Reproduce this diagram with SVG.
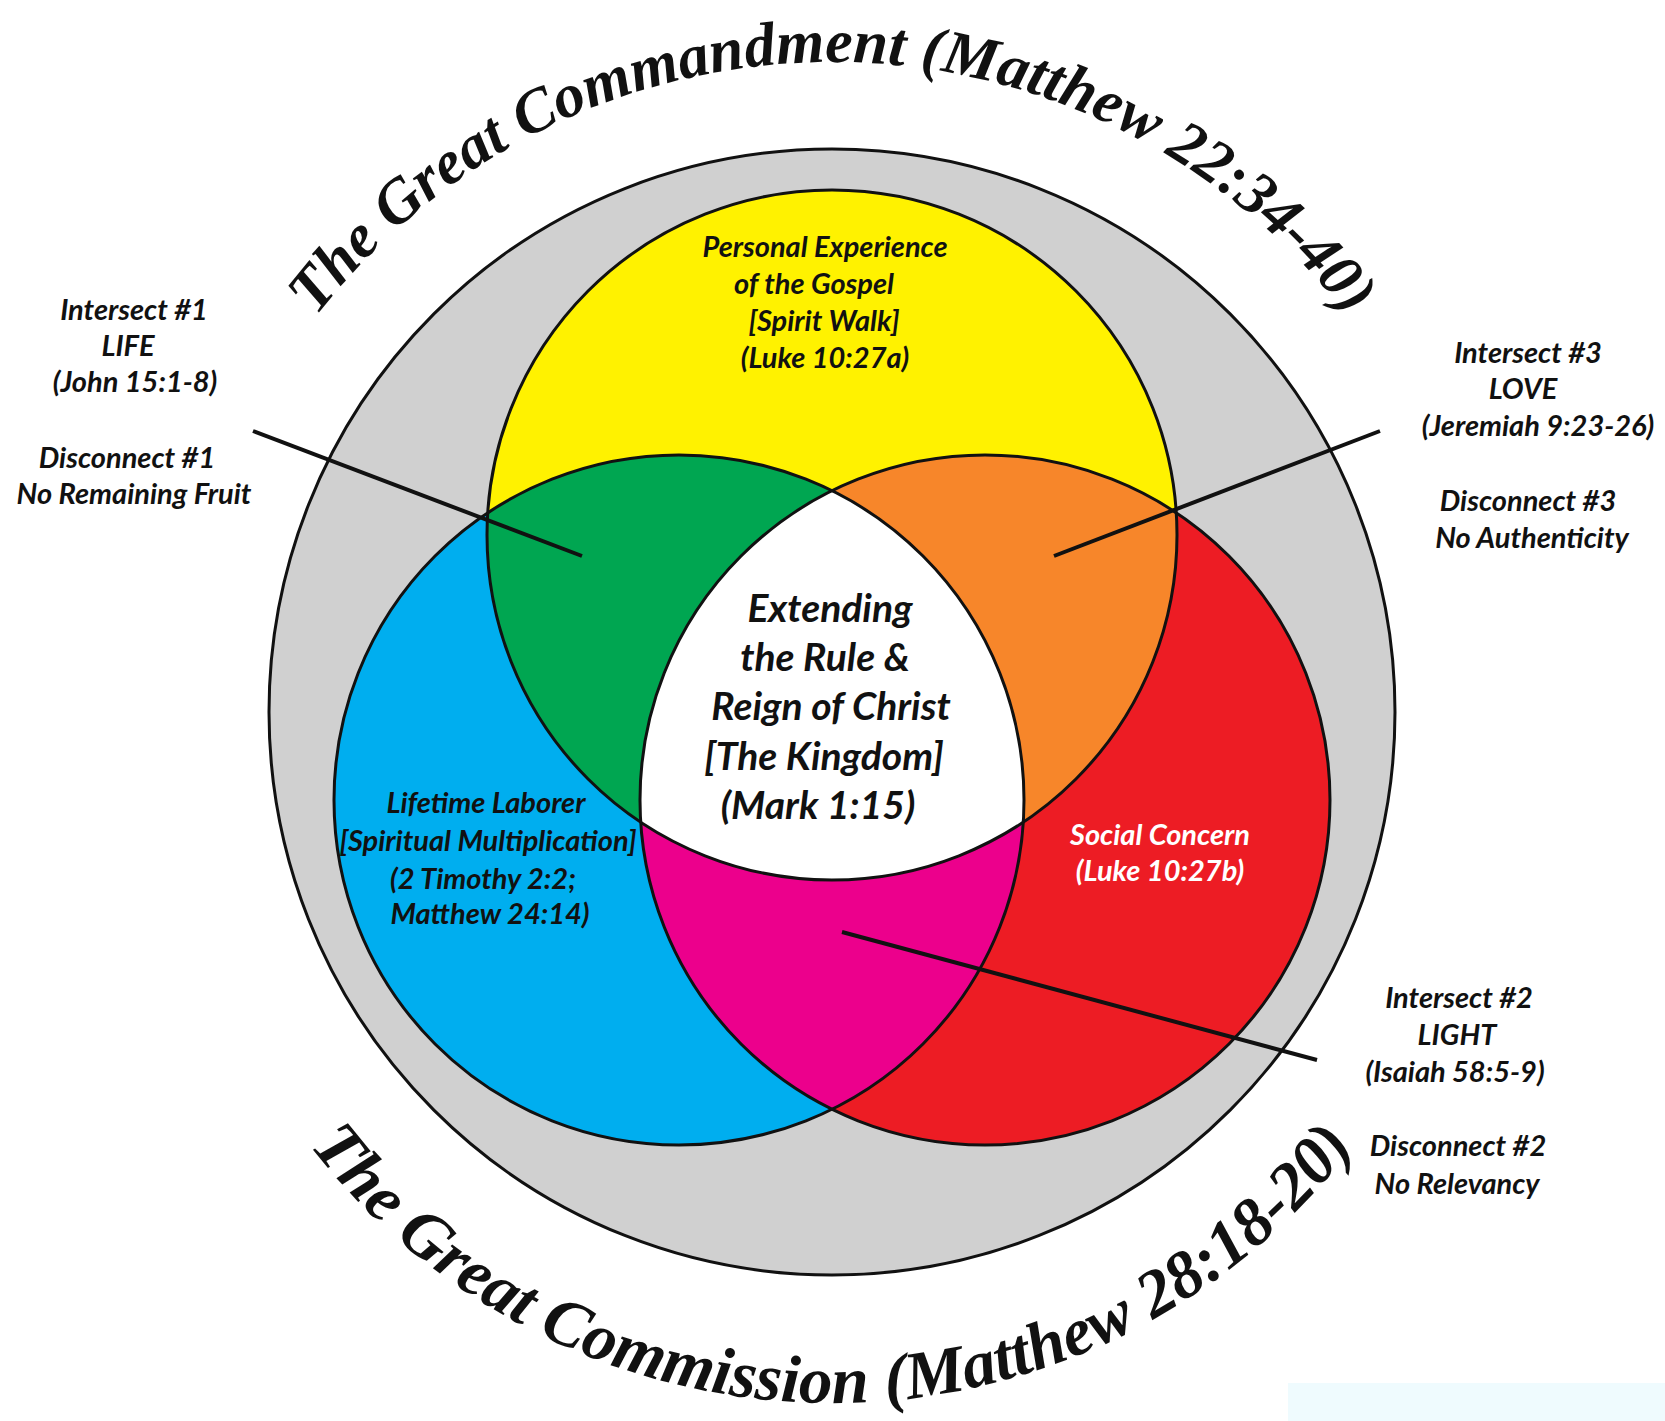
<svg xmlns="http://www.w3.org/2000/svg" width="1665" height="1421" viewBox="0 0 1665 1421">
<style>
.lbl{font-family:Lato,"Liberation Sans",sans-serif;font-weight:bold;font-style:italic;font-size:29px;fill:#111;text-anchor:middle}
.ctr{font-size:39px}
.wht{fill:#fff}
.title{font-family:"Liberation Serif","Times New Roman",serif;font-weight:bold;font-style:italic;fill:#111}
.edge{fill:none;stroke:#111;stroke-width:3}
.conn{stroke:#111;stroke-width:4;stroke-linecap:butt}
</style>
<defs>
<clipPath id="cY"><circle cx="832" cy="535" r="345"/></clipPath>
<clipPath id="cB"><circle cx="679" cy="800" r="345"/></clipPath>
<clipPath id="cR"><circle cx="985" cy="800" r="345"/></clipPath>
<path id="arcTop" d="M 182 712 A 650 650 0 0 1 1482 712"/>
<path id="arcBot" d="M 174 745 A 658 658 0 0 0 1490 745"/>
</defs>
<rect width="1665" height="1421" fill="#fff"/>
<rect x="1288" y="1383" width="377" height="38" fill="#effbfe"/>

<g id="outer-ring">
<circle cx="832" cy="712" r="563" fill="#d0d0d0" stroke="#111" stroke-width="3"/>
</g>

<g id="title-top">
<text class="title" font-size="62"><textPath href="#arcTop" startOffset="50%" text-anchor="middle">The Great Commandment (Matthew 22:34-40)</textPath></text>
</g>
<g id="title-bottom">
<text class="title" font-size="67"><textPath href="#arcBot" startOffset="50%" text-anchor="middle">The Great Commission (Matthew 28:18-20)</textPath></text>
</g>

<g id="circle-yellow"><circle cx="832" cy="535" r="345" fill="#fff200"/></g>
<g id="circle-blue"><circle cx="679" cy="800" r="345" fill="#00aeef"/></g>
<g id="circle-red"><circle cx="985" cy="800" r="345" fill="#ed1c24"/></g>
<g id="intersect-green"><circle cx="832" cy="535" r="345" fill="#00a651" clip-path="url(#cB)"/></g>
<g id="intersect-orange"><circle cx="832" cy="535" r="345" fill="#f7862a" clip-path="url(#cR)"/></g>
<g id="intersect-magenta"><circle cx="679" cy="800" r="345" fill="#ec008c" clip-path="url(#cR)"/></g>
<g id="kingdom-center"><g clip-path="url(#cR)"><circle cx="832" cy="535" r="345" fill="#fff" clip-path="url(#cB)"/></g></g>
<g id="outlines">
<circle class="edge" cx="832" cy="535" r="345"/>
<circle class="edge" cx="679" cy="800" r="345"/>
<circle class="edge" cx="985" cy="800" r="345"/>
</g>

<g id="connectors">
<line class="conn" x1="253" y1="431" x2="582" y2="556"/>
<line class="conn" x1="1380" y1="431" x2="1054" y2="556"/>
<line class="conn" x1="842" y1="932" x2="1317" y2="1060"/>
</g>

<g id="label-yellow">
<text class="lbl" x="825" y="257">Personal Experience</text>
<text class="lbl" x="814" y="294">of the Gospel</text>
<text class="lbl" x="824" y="331">[Spirit Walk]</text>
<text class="lbl" x="825" y="368">(Luke 10:27a)</text>
</g>
<g id="label-center">
<text class="lbl ctr" x="830" y="622">Extending</text>
<text class="lbl ctr" x="825" y="671">the Rule &amp;</text>
<text class="lbl ctr" x="831" y="720">Reign of Christ</text>
<text class="lbl ctr" x="824" y="770">[The Kingdom]</text>
<text class="lbl ctr" x="818" y="819">(Mark 1:15)</text>
</g>
<g id="label-blue">
<text class="lbl" x="486" y="813">Lifetime Laborer</text>
<text class="lbl" x="488" y="851">[Spiritual Multiplication]</text>
<text class="lbl" x="483" y="889">(2 Timothy 2:2;</text>
<text class="lbl" x="490" y="924">Matthew 24:14)</text>
</g>
<g id="label-red">
<text class="lbl wht" x="1160" y="845">Social Concern</text>
<text class="lbl wht" x="1160" y="881">(Luke 10:27b)</text>
</g>
<g id="label-intersect1">
<text class="lbl" x="134" y="320">Intersect #1</text>
<text class="lbl" x="128" y="356">LIFE</text>
<text class="lbl" x="135" y="392">(John 15:1-8)</text>
<text class="lbl" x="127" y="468">Disconnect #1</text>
<text class="lbl" x="134" y="504">No Remaining Fruit</text>
</g>
<g id="label-intersect3">
<text class="lbl" x="1528" y="363">Intersect #3</text>
<text class="lbl" x="1523" y="399">LOVE</text>
<text class="lbl" x="1538" y="436">(Jeremiah 9:23-26)</text>
<text class="lbl" x="1528" y="511">Disconnect #3</text>
<text class="lbl" x="1532" y="548">No Authenticity</text>
</g>
<g id="label-intersect2">
<text class="lbl" x="1459" y="1008">Intersect #2</text>
<text class="lbl" x="1457" y="1045">LIGHT</text>
<text class="lbl" x="1455" y="1082">(Isaiah 58:5-9)</text>
<text class="lbl" x="1458" y="1156">Disconnect #2</text>
<text class="lbl" x="1457" y="1194">No Relevancy</text>
</g>
</svg>
